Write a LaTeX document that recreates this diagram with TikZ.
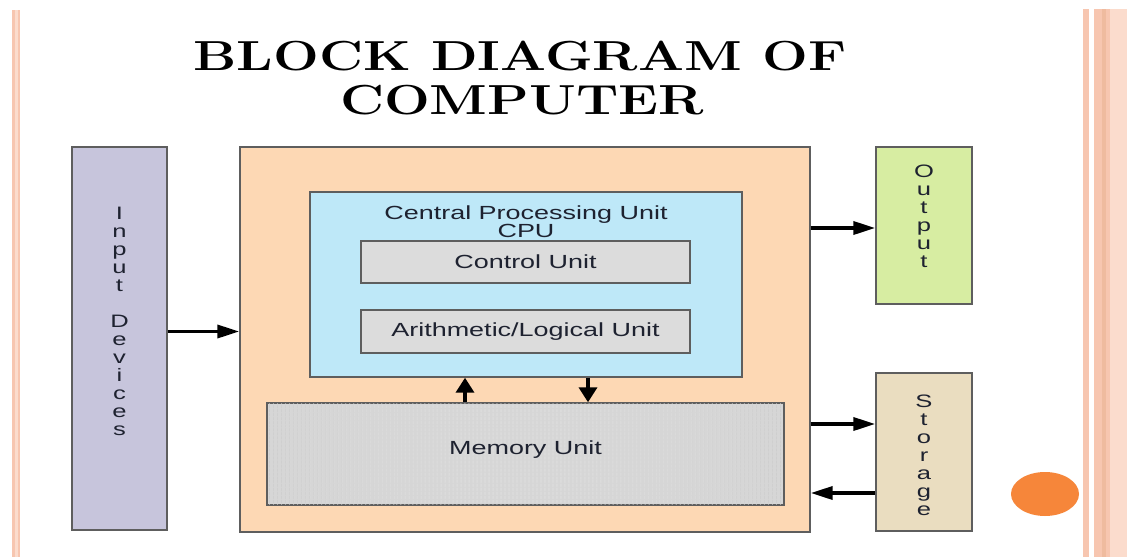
\documentclass[tikz,border=0pt]{standalone}
\usepackage{fontspec}
\usepackage{graphicx}
\newfontfamily\arialfont{Liberation Sans}
\usetikzlibrary{arrows.meta,patterns.meta,calc}
\definecolor{stripe}{HTML}{F7C6B0}
\definecolor{stripelt}{HTML}{FBDCCD}
\definecolor{bordergray}{HTML}{5E5E5E}
\definecolor{inputfill}{HTML}{C7C5DC}
\definecolor{compfill}{HTML}{FDD8B4}
\definecolor{cpufill}{HTML}{BEE8F8}
\definecolor{unitfill}{HTML}{DCDCDC}
\definecolor{memfill}{HTML}{D6D6D6}
\definecolor{memline}{HTML}{CBCBCB}
\definecolor{outfill}{HTML}{D7EDA2}
\definecolor{stofill}{HTML}{EADDC0}
\definecolor{dot}{HTML}{F6863A}
\definecolor{txt}{HTML}{1E2230}
\newcommand{\hs}[1]{\scalebox{1.42}[1]{#1}}
\newcommand{\tstretch}[1]{\scalebox{1.29}[1]{#1}}
\tikzset{
  blockbox/.style={draw=bordergray, line width=1.4pt, rectangle, inner sep=0pt},
  lbl/.style={font=\arialfont\fontsize{19}{19}\selectfont, text=txt, inner sep=0pt},
  vlbl/.style={font=\arialfont\fontsize{18}{18}\selectfont, text=txt, inner sep=0pt},
  arr/.style={line width=3.5pt, -{Triangle[length=22pt,width=13pt]}, black},
  varr/.style={line width=3.5pt, -{Triangle[length=15pt,width=18pt]}, black}
}
\begin{document}
\begin{tikzpicture}[x=1pt,y=-1pt]
\useasboundingbox (0,0) rectangle (1127,557);
\fill[white] (0,0) rectangle (1127,557);
% decorative stripes
\fill[stripe] (12,10) rectangle (20,557);
\fill[stripelt] (15,10) rectangle (18,557);
\fill[stripe] (1083,9) rectangle (1089,557);
\fill[stripe] (1094,9) rectangle (1127,557);
\fill[stripe!85!brown] (1102,9) rectangle (1106,557);
\fill[stripelt] (1110,9) rectangle (1127,557);
% orange dot
\fill[dot] (1045,494) ellipse [x radius=34, y radius=22];
% title
\node[font=\bfseries\fontsize{42}{42}\selectfont, inner sep=0pt, anchor=base] (title1) at (520,70) {\tstretch{BLOCK DIAGRAM OF}};
\node[font=\bfseries\fontsize{42}{42}\selectfont, inner sep=0pt, anchor=base] (title2) at (522,114) {\tstretch{COMPUTER}};
% boxes
\node[blockbox, fill=inputfill, minimum width=95, minimum height=383] (inp) at (119.5,338.5) {};
\node[blockbox, fill=compfill, minimum width=570, minimum height=385] (comp) at (525,339.5) {};
\node[blockbox, fill=cpufill, minimum width=432, minimum height=185] (cpu) at (526,284.5) {};
\node[blockbox, fill=unitfill, minimum width=329, minimum height=42] (cu) at (525.5,262) {};
\node[blockbox, fill=unitfill, minimum width=329, minimum height=43] (alu) at (525.5,331.5) {};
\node[blockbox, fill=memfill, minimum width=517, minimum height=102] (mem) at (525.5,454) {};
\fill[pattern={Lines[angle=90,distance=4pt,line width=0.5pt]}, pattern color=memline]
  ([xshift=1pt,yshift=-1pt]mem.north west) rectangle ([xshift=-1pt,yshift=1pt]mem.south east);
\draw[bordergray, line width=1.4pt] (mem.north west) rectangle (mem.south east);
\node[blockbox, fill=outfill, minimum width=96, minimum height=157] (out) at (924,225.5) {};
\node[blockbox, fill=stofill, minimum width=96, minimum height=158] (sto) at (924,452) {};
% labels
\node[lbl, align=center, anchor=north] (cputitle) at (526,206) {\hs{Central Processing Unit}\\[-1pt]\hs{CPU}};
\node[lbl] (cutxt) at (cu.center) {\hs{Control Unit}};
\node[lbl] (alutxt) at (alu.center) {\hs{Arithmetic/Logical Unit}};
\node[lbl] (memtxt) at (525.5,450) {\hs{Memory Unit}};
\node[vlbl] (inptxt) at (119.5,324) {\hs{\begin{tabular}{@{}c@{}}I\\n\\p\\u\\t\\ \\D\\e\\v\\i\\c\\e\\s\end{tabular}}};
\node[vlbl] (outtxt) at (924,219) {\hs{\begin{tabular}{@{}c@{}}O\\u\\t\\p\\u\\t\end{tabular}}};
\node[vlbl] (stotxt) at (924,458) {\hs{\begin{tabular}{@{}c@{}}S\\t\\o\\r\\a\\g\\e\end{tabular}}};
% arrow helper coordinates
\coordinate (outy) at (0,228);
\coordinate (stoin) at (0,424);
\coordinate (stoout) at (0,493);
\coordinate (upx) at (465,0);
\coordinate (downx) at (588,0);
% connectors
\draw[arr] (inp.east |- alu.center) -- (comp.west |- alu.center);
\draw[arr] (comp.east |- outy) -- (out.west |- outy);
\draw[arr] (comp.east |- stoin) -- (sto.west |- stoin);
\draw[arr] (sto.west |- stoout) -- (comp.east |- stoout);
\draw[varr] (mem.north -| upx) -- (cpu.south -| upx);
\draw[varr] (cpu.south -| downx) -- (mem.north -| downx);
\end{tikzpicture}
\end{document}
